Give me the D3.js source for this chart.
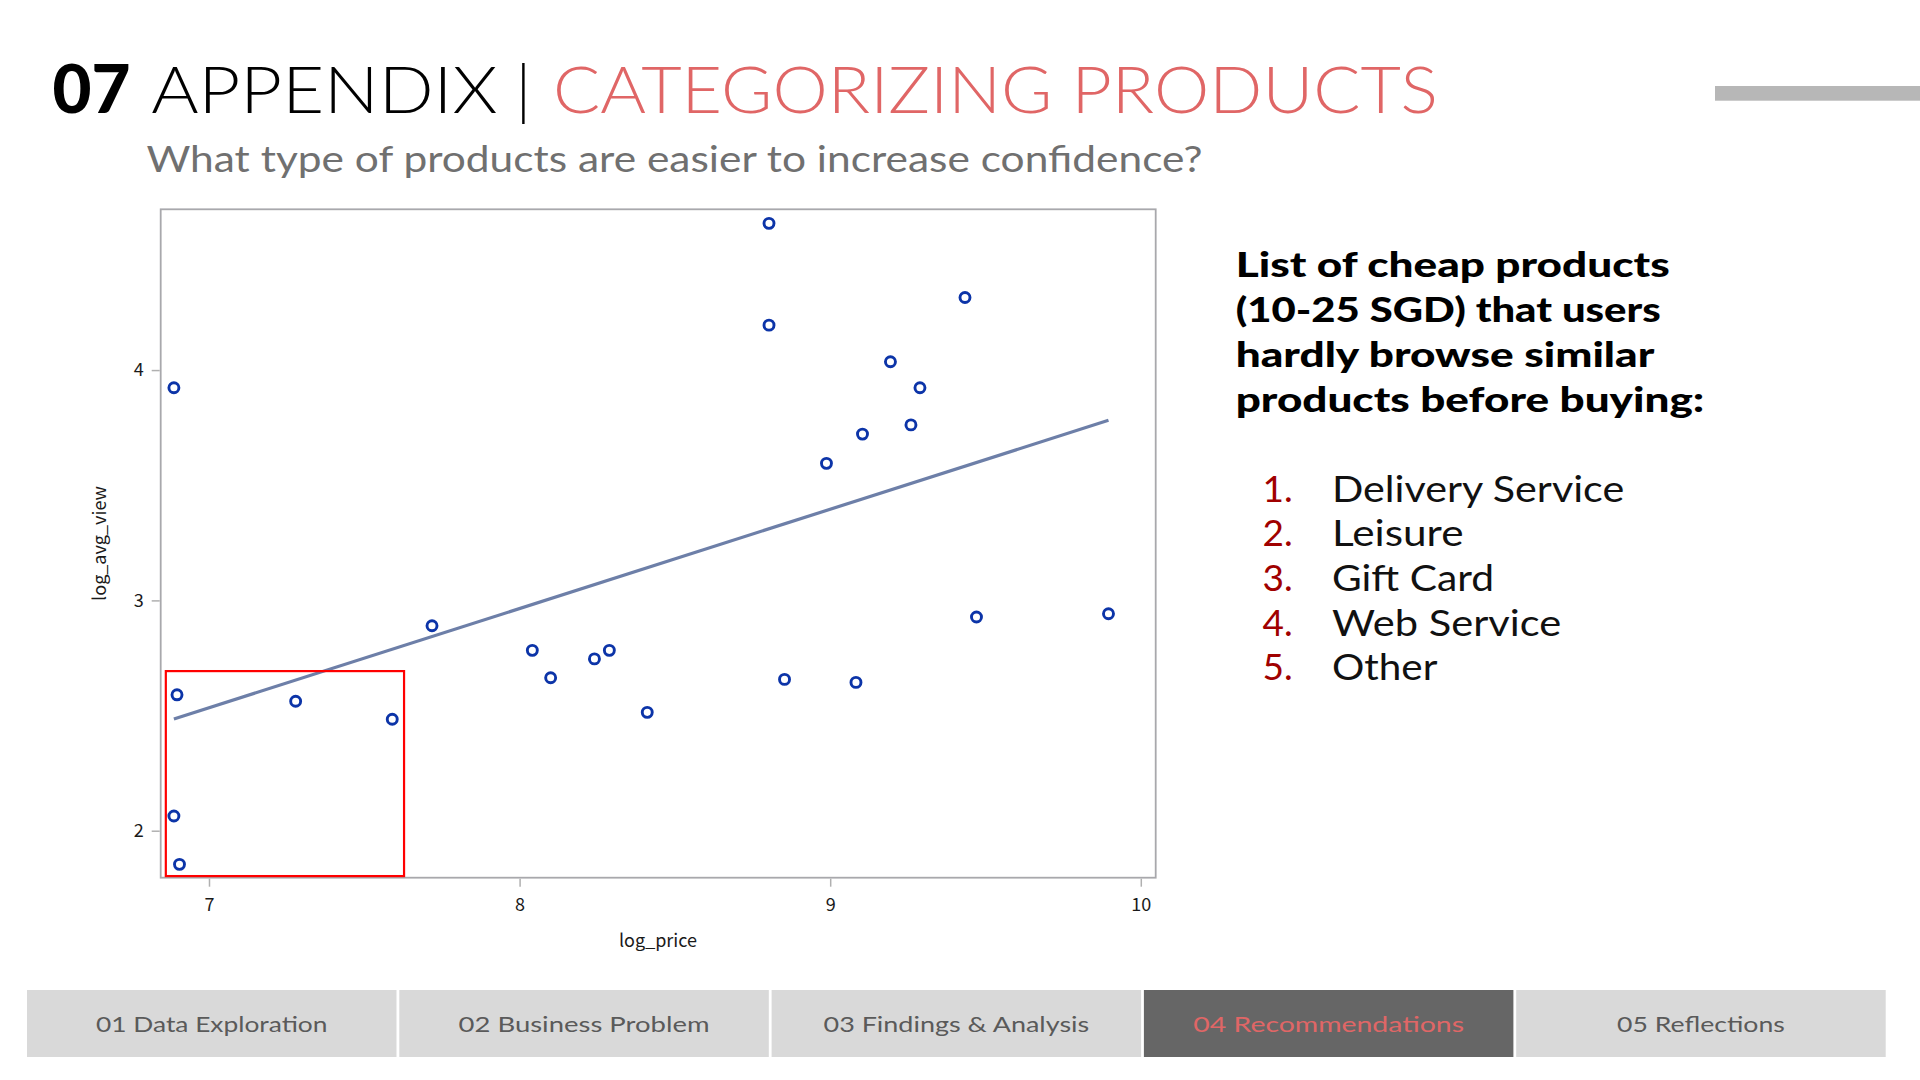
<!DOCTYPE html>
<html><head><meta charset="utf-8">
<script src="https://cdn.jsdelivr.net/npm/d3@7"></script>
<style>html,body{margin:0;padding:0;background:#fff;overflow:hidden;} svg{display:block;}</style>
</head><body>
<svg id="c" width="1920" height="1080"></svg>
<script>
// ---- data ----
const logPrice   = [8.803, 8.803, 9.434, 9.194, 9.289, 6.887, 9.260, 9.104, 8.988,
                    7.718, 8.041, 8.289, 8.241, 8.100, 8.411, 8.853, 9.083, 9.471, 9.896,
                    6.897, 7.279, 7.590, 6.887, 6.905];
const logAvgView = [4.637, 4.195, 4.315, 4.036, 3.923, 3.923, 3.762, 3.722, 3.595,
                    2.890, 2.783, 2.783, 2.746, 2.664, 2.514, 2.657, 2.644, 2.928, 2.942,
                    2.590, 2.562, 2.484, 2.064, 1.854];
const xTicks = [7, 8, 9, 10];
const yTicks = [2, 3, 4];
const xDomain = [6.8445, 10.048];
const yDomain = [1.796, 4.698];
const highlightX = [6.861, 7.628];
const highlightY = [1.803, 2.693];
const headingLines = ["List of cheap products", "(10-25 SGD) that users", "hardly browse similar", "products before buying:"];
const listItems = ["Delivery Service", "Leisure", "Gift Card", "Web Service", "Other"];
const navLabels = ["01 Data Exploration", "02 Business Problem", "03 Findings & Analysis", "04 Recommendations", "05 Reflections"];
const activeTab = 3;

const svg = d3.select("#c");
const SANS = "Lato, 'Open Sans', 'Noto Sans', sans-serif";
const CHARTF = "'Noto Sans CJK JP', 'Liberation Sans', sans-serif";

function fitText(g, str, x, y, len, opts) {
  const t = g.append("text").attr("x", x).attr("y", y).text(str)
    .attr("font-family", opts.family || SANS)
    .attr("font-size", opts.size).attr("font-weight", opts.weight || 400)
    .attr("fill", opts.fill || "#000");
  if (opts.anchor) t.attr("text-anchor", opts.anchor);
  if (len) t.attr("textLength", len).attr("lengthAdjust", "spacingAndGlyphs");
  return t;
}
// ---- title ----
fitText(svg, "07", 52.6, 112.5, 78, {size: 67, weight: 900, fill: "#000"});
fitText(svg, "APPENDIX", 151.2, 112.5, 346.3, {size: 66, weight: 300, fill: "#000"});
fitText(svg, "|", 523.3, 112.5, null, {size: 66, weight: 300, fill: "#000", anchor: "middle"});
fitText(svg, "CATEGORIZING PRODUCTS", 553, 112.5, 885, {size: 66, weight: 300, fill: "#e06666"});
fitText(svg, "What type of products are easier to increase confidence?", 146.4, 171.7, 1056, {size: 36, weight: 400, fill: "#707070"});

svg.append("rect").attr("x", 1715).attr("y", 86).attr("width", 205).attr("height", 14.7).attr("fill", "#b7b7b7");

// ---- chart ----
const x = d3.scaleLinear().domain(xDomain).range([160.7, 1155.7]);
const y = d3.scaleLinear().domain(yDomain).range([877.7, 209.3]);
const gc = svg.append("g");

// regression (least squares from the data)
const mx = d3.mean(logPrice), my = d3.mean(logAvgView);
let sxy = 0, sxx = 0;
logPrice.forEach((v, i) => { sxy += (v - mx) * (logAvgView[i] - my); sxx += (v - mx) * (v - mx); });
const slope = sxy / sxx, icpt = my - slope * mx;
const xr = d3.extent(logPrice);

const xAxis = d3.axisBottom(x).tickValues(xTicks).tickSize(8).tickPadding(12).tickSizeOuter(0).tickFormat(d3.format("d"));
const yAxis = d3.axisLeft(y).tickValues(yTicks).tickSize(8).tickPadding(8).tickSizeOuter(0).tickFormat(d3.format("d"));
const gx = gc.append("g").attr("transform", `translate(0,${y.range()[0] + 1})`).call(xAxis);
const gy = gc.append("g").attr("transform", `translate(${x.range()[0] - 1},0)`).call(yAxis);
[gx, gy].forEach(g => {
  g.select(".domain").remove();
  g.selectAll(".tick line").attr("stroke", "#b0b0b0").attr("stroke-width", 1.5);
  g.selectAll(".tick text").attr("fill", "#1a1a1a").attr("font-size", 18).attr("font-family", CHARTF);
});

gc.append("rect").attr("x", x.range()[0]).attr("y", y.range()[1])
  .attr("width", x.range()[1] - x.range()[0]).attr("height", y.range()[0] - y.range()[1])
  .attr("fill", "none").attr("stroke", "#a8a8ac").attr("stroke-width", 1.8);

gc.append("line")
  .attr("x1", x(xr[0])).attr("y1", y(icpt + slope * xr[0]))
  .attr("x2", x(xr[1])).attr("y2", y(icpt + slope * xr[1]))
  .attr("stroke", "#6d7fa8").attr("stroke-width", 3.2);

gc.append("g").selectAll("circle").data(logPrice).join("circle")
  .attr("cx", d => x(d)).attr("cy", (d, i) => y(logAvgView[i])).attr("r", 5)
  .attr("fill", "none").attr("stroke", "#0c34a8").attr("stroke-width", 2.9);

gc.append("rect").attr("x", x(highlightX[0])).attr("y", y(highlightY[1]))
  .attr("width", x(highlightX[1]) - x(highlightX[0])).attr("height", y(highlightY[0]) - y(highlightY[1]))
  .attr("fill", "none").attr("stroke", "#ff0000").attr("stroke-width", 2.2);

gc.append("text").attr("x", 658).attr("y", 947).attr("text-anchor", "middle")
  .attr("font-family", CHARTF).attr("font-size", 18).attr("fill", "#1a1a1a").text("log_price");
gc.append("text").attr("transform", "translate(106,543.5) rotate(-90)").attr("text-anchor", "middle")
  .attr("font-family", CHARTF).attr("font-size", 18).attr("fill", "#1a1a1a").text("log_avg_view");

// ---- right text ----
const headW = [434, 425, 418.6, 468.6];
headingLines.forEach((s, i) => fitText(svg, s, 1235.7, 277 + i * 45, headW[i], {size: 35, weight: 900, fill: "#000"}));
const listW = [292.2, 131.5, 162, 229.3, 105.4];
listItems.forEach((s, i) => {
  const by = 501.7 + i * 44.6;
  fitText(svg, (i + 1) + ".", 1262.5, by, null, {size: 37, weight: 400, fill: "#a00000"});
  fitText(svg, s, 1332, by, listW[i], {size: 37, weight: 400, fill: "#111"});
});

// ---- nav ----
const navW = [231.5, 251, 265.7, 270.6, 167.7];
const ng = svg.append("g");
navLabels.forEach((s, i) => {
  const x0 = 27 + i * 372.3;
  ng.append("rect").attr("x", x0).attr("y", 990).attr("width", 369.5).attr("height", 67)
    .attr("fill", i === activeTab ? "#666666" : "#d9d9d9");
  fitText(ng, s, x0 + 184.75, 1031.7, navW[i], {size: 21, weight: 400, anchor: "middle",
    fill: i === activeTab ? "#e06666" : "#5a5a5a"});
});
</script>
</body></html>
